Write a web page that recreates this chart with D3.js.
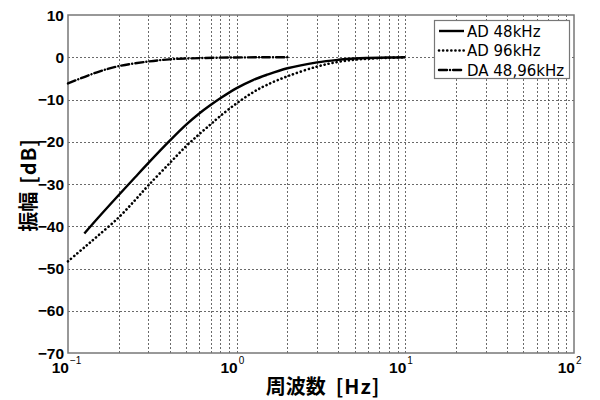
<!DOCTYPE html>
<html>
<head>
<meta charset="utf-8">
<script src="https://cdn.jsdelivr.net/npm/d3@7"></script>
<style>
  body { margin: 0; background: #fff; }
  text { font-family: "Liberation Sans", Arial, sans-serif; fill: #000; }
  .jp { font-family: "Noto Sans CJK JP", sans-serif; }
  .legend-text { font-family: "DejaVu Sans", sans-serif; }
</style>
</head>
<body>
<div id="area"></div>
<script>
// frequency [Hz] and amplitude [dB]
var freq_ad48 = [0.125, 0.15, 0.2, 0.25, 0.3, 0.4, 0.5, 0.6, 0.7, 0.8, 1.0, 1.25, 1.5, 2, 3, 4, 5, 6, 8, 10];
var amp_ad48  = [-41.7, -38.1, -32.6, -28.4, -25.0, -19.8, -16.0, -13.3, -11.3, -9.7, -7.3, -5.4, -4.2, -2.6, -1.2, -0.6, -0.3, -0.18, -0.07, 0];

var freq_ad96 = [0.1, 0.125, 0.15, 0.2, 0.25, 0.3, 0.4, 0.5, 0.6, 0.7, 0.8, 1.0, 1.25, 1.5, 2, 3, 4, 5, 6, 8, 10];
var amp_ad96  = [-48.3, -45.0, -42.3, -37.9, -33.8, -30.3, -25.1, -21.1, -18.2, -15.9, -13.9, -10.9, -8.3, -6.6, -4.5, -2.2, -1.1, -0.6, -0.35, -0.12, 0];

var freq_da = [0.1, 0.15, 0.2, 0.3, 0.4, 0.6, 1.0, 1.5, 2];
var amp_da  = [-6.2, -3.5, -2.1, -1.0, -0.5, -0.2, -0.05, 0, 0];

var series_names = ['AD 48kHz', 'AD 96kHz', 'DA 48,96kHz'];
var y_ticks = [10, 0, -10, -20, -30, -40, -50, -60, -70];
var x_decades = [-1, 0, 1, 2];

var width = 600, height = 400;
var plot_left = 68, plot_top = 15, plot_right = 574, plot_bottom = 353;

var svg = d3.select('#area').append('svg')
    .attr('width', width).attr('height', height);

var x = d3.scaleLog().domain([0.1, 100]).range([plot_left, plot_right]);
var y = d3.scaleLinear().domain([-70, 10]).range([plot_bottom, plot_top]);

// grid, minor log lines too
var grid_x = [];
x_decades.slice(0, 3).forEach(function(e) {
  for (var k = 1; k <= 9; k++) grid_x.push(k * Math.pow(10, e));
});

var grid = svg.append('g')
    .attr('stroke', '#444')
    .attr('stroke-width', 0.8)
    .attr('stroke-dasharray', '2,2');

grid.selectAll('line.gx').data(grid_x.filter(function(d) { return d > 0.1; }))
  .enter().append('line')
    .attr('x1', function(d) { return Math.round(x(d)) + 0.5; })
    .attr('x2', function(d) { return Math.round(x(d)) + 0.5; })
    .attr('y1', plot_top).attr('y2', plot_bottom);

grid.selectAll('line.gy').data(y_ticks.filter(function(d) { return d > -70 && d < 10; }))
  .enter().append('line')
    .attr('y1', function(d) { return Math.round(y(d)) + 0.5; })
    .attr('y2', function(d) { return Math.round(y(d)) + 0.5; })
    .attr('x1', plot_left).attr('x2', plot_right);

// frame
svg.append('rect')
    .attr('x', plot_left).attr('y', plot_top)
    .attr('width', plot_right - plot_left).attr('height', plot_bottom - plot_top)
    .attr('fill', 'none')
    .attr('stroke', '#777')
    .attr('stroke-width', 1.5);

// y tick labels
svg.append('g').selectAll('text').data(y_ticks)
  .enter().append('text')
    .attr('x', 64)
    .attr('y', function(d) { return y(d) + 5.5; })
    .attr('text-anchor', 'end')
    .style('font-size', '15.5px')
    .style('font-weight', 'bold')
    .text(function(d) { return d < 0 ? '\u2212' + Math.abs(d) : d; });

// x tick labels 10^n
var xl = svg.append('g').selectAll('g').data(x_decades).enter().append('g');
xl.append('text')
    .attr('x', function(d) { return x(Math.pow(10, d)) + 1; })
    .attr('y', 373)
    .attr('text-anchor', 'end')
    .style('font-size', '15.5px')
    .style('font-weight', 'bold')
    .text('10');
xl.append('text')
    .attr('x', function(d) { return x(Math.pow(10, d)) + 2; })
    .attr('y', 364)
    .style('font-size', '10px')
    .text(function(d) { return d < 0 ? '\u2212' + Math.abs(d) : d; });

// axis titles
var xt = svg.append('text')
    .attr('class', 'jp')
    .attr('x', (plot_left + plot_right) / 2 + 2)
    .attr('y', 394)
    .attr('text-anchor', 'middle')
    .style('font-size', '20px')
    .style('font-weight', 'bold');
xt.append('tspan').text('周波数');
xt.append('tspan').attr('dx', 10).style('letter-spacing', '1px').text('[Hz]');

var yt = svg.append('text')
    .attr('class', 'jp')
    .attr('transform', 'translate(36,185) rotate(-90)')
    .attr('text-anchor', 'middle')
    .style('font-size', '20px')
    .style('font-weight', 'bold');
yt.append('tspan').text('振幅');
yt.append('tspan').attr('dx', 8).style('letter-spacing', '1px').text('[dB]');

// curves
var line = d3.line()
    .x(function(d) { return x(d[0]); })
    .y(function(d) { return y(d[1]); })
    .curve(d3.curveCatmullRom.alpha(0.5));

var styles = [
  {dash: null, width: 2.4, cap: 'butt'},
  {dash: '0.1,4', width: 2.6, cap: 'round'},
  {dash: '8,3,0.1,3', width: 2.4, cap: 'round'}
];
var series = [
  d3.zip(freq_ad48, amp_ad48),
  d3.zip(freq_ad96, amp_ad96),
  d3.zip(freq_da, amp_da)
];

svg.append('g').selectAll('path').data(series)
  .enter().append('path')
    .attr('d', line)
    .attr('fill', 'none')
    .attr('stroke', '#000')
    .attr('stroke-width', function(d, i) { return styles[i].width; })
    .attr('stroke-linecap', function(d, i) { return styles[i].cap; })
    .attr('stroke-dasharray', function(d, i) { return styles[i].dash; });

// legend
var legend = svg.append('g');
legend.append('rect')
    .attr('x', 434.5).attr('y', 20.5)
    .attr('width', 135).attr('height', 58)
    .attr('fill', '#fff')
    .attr('stroke', '#777')
    .attr('stroke-width', 1.2);

var items = legend.selectAll('g.item').data(series_names)
  .enter().append('g')
    .attr('transform', function(d, i) { return 'translate(0,' + (31 + i * 19.5) + ')'; });
items.append('line')
    .attr('x1', 439).attr('x2', 464)
    .attr('y1', 0).attr('y2', 0)
    .attr('stroke', '#000')
    .attr('stroke-width', function(d, i) { return styles[i].width; })
    .attr('stroke-linecap', function(d, i) { return styles[i].cap; })
    .attr('stroke-dasharray', function(d, i) { return styles[i].dash; });
items.append('text')
    .attr('class', 'legend-text')
    .attr('x', 467)
    .attr('y', 5.5)
    .style('font-size', '15px')
    .text(function(d) { return d; });
</script>
</body>
</html>
